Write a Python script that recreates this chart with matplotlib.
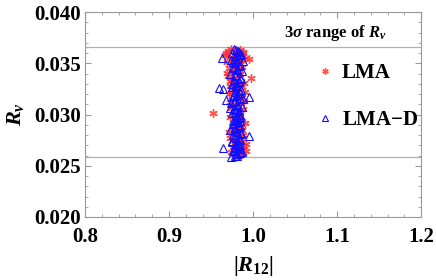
import matplotlib
matplotlib.use('Agg')
import matplotlib.pyplot as plt
from matplotlib.ticker import MultipleLocator

plt.rcParams['font.family'] = 'Liberation Serif'
plt.rcParams['font.weight'] = 'bold'
plt.rcParams['mathtext.fontset'] = 'custom'
plt.rcParams['mathtext.rm'] = 'Liberation Serif:bold'
plt.rcParams['mathtext.it'] = 'Liberation Serif:italic:bold'
plt.rcParams['mathtext.bf'] = 'Liberation Serif:bold'

# 3 sigma range of R_nu
r_low, r_high = 0.0259, 0.0366

# LMA points (|R12|, R_nu)
lma_x = [0.970, 0.974, 0.979, 0.984, 0.988, 0.966, 0.972, 0.981, 0.990, 0.995,
         0.969, 0.976, 0.985, 0.971, 0.980, 0.987, 0.997, 0.970, 0.975, 0.983,
         0.989, 0.973, 0.978, 0.986, 0.971, 0.982, 0.990, 0.976, 0.984, 0.952,
         0.974, 0.980, 0.988, 0.972, 0.985, 0.977, 0.983, 0.990, 0.975, 0.981,
         0.987, 0.973, 0.979, 0.986, 0.992, 0.976, 0.982, 0.989, 0.974, 0.980,
         0.985, 0.978, 0.983, 0.969, 0.987, 0.978, 0.981, 0.984, 0.977, 0.973,
         0.968, 0.986, 0.975, 0.982, 0.979, 0.991, 0.972, 0.988, 0.976, 0.983,
         0.980, 0.985, 0.977, 0.989, 0.974, 0.982, 0.978, 0.986, 0.971, 0.984,
         0.979, 0.987, 0.975, 0.983, 0.981, 0.988, 0.976, 0.980, 0.984, 0.978]
lma_y = [0.0362, 0.0364, 0.0361, 0.0363, 0.0360, 0.0358, 0.0356, 0.0357, 0.0355, 0.0354,
         0.0351, 0.0349, 0.0352, 0.0345, 0.0343, 0.0346, 0.0336, 0.0338, 0.0334, 0.0339,
         0.0331, 0.0328, 0.0325, 0.0327, 0.0320, 0.0318, 0.0322, 0.0314, 0.0311, 0.0301,
         0.0306, 0.0303, 0.0305, 0.0298, 0.0296, 0.0291, 0.0289, 0.0292, 0.0284, 0.0281,
         0.0285, 0.0277, 0.0274, 0.0276, 0.0271, 0.0268, 0.0266, 0.0269, 0.0263, 0.0261,
         0.0262, 0.0259, 0.0260, 0.0341, 0.0353, 0.0330, 0.0296, 0.0272, 0.0348, 0.0312,
         0.0360, 0.0317, 0.0342, 0.0287, 0.0309, 0.0264, 0.0333, 0.0280, 0.0355, 0.0324,
         0.0358, 0.0340, 0.0336, 0.0313, 0.0321, 0.0300, 0.0294, 0.0288, 0.0283, 0.0279,
         0.0270, 0.0265, 0.0308, 0.0329, 0.0347, 0.0361, 0.0352, 0.0326, 0.0299, 0.0275]

# LMA-D points (|R12|, R_nu)
lmad_x = [0.977, 0.980, 0.983, 0.975, 0.986, 0.979, 0.982, 0.963, 0.974, 0.988,
          0.978, 0.984, 0.976, 0.981, 0.987, 0.973, 0.979, 0.985, 0.960, 0.964,
          0.977, 0.983, 0.975, 0.980, 0.986, 0.968, 0.978, 0.995, 0.982, 0.976,
          0.984, 0.979, 0.974, 0.981, 0.987, 0.977, 0.983, 0.975, 0.980, 0.985,
          0.978, 0.982, 0.976, 0.984, 0.995, 0.979, 0.973, 0.981, 0.986, 0.977,
          0.983, 0.964, 0.975, 0.980, 0.985, 0.978, 0.982, 0.976, 0.984, 0.979,
          0.974, 0.981, 0.987, 0.977, 0.983, 0.975, 0.980, 0.986, 0.978, 0.982,
          0.976, 0.984, 0.979, 0.973, 0.981, 0.988, 0.977, 0.983, 0.975, 0.980,
          0.982, 0.985, 0.979, 0.976, 0.983, 0.981, 0.978, 0.986, 0.980, 0.984,
          0.977, 0.982, 0.979, 0.985, 0.981, 0.978, 0.983, 0.980, 0.976, 0.984,
          0.982, 0.979, 0.986, 0.981, 0.977, 0.983, 0.980, 0.985, 0.978, 0.982]
lmad_y = [0.0364, 0.0363, 0.0361, 0.0360, 0.0359, 0.0357, 0.0356, 0.0355, 0.0353, 0.0352,
          0.0350, 0.0348, 0.0346, 0.0344, 0.0342, 0.0340, 0.0338, 0.0336, 0.0326, 0.0325,
          0.0334, 0.0332, 0.0330, 0.0328, 0.0324, 0.0314, 0.0322, 0.0317, 0.0320, 0.0318,
          0.0316, 0.0313, 0.0311, 0.0309, 0.0307, 0.0305, 0.0303, 0.0301, 0.0299, 0.0297,
          0.0295, 0.0293, 0.0291, 0.0289, 0.0279, 0.0287, 0.0285, 0.0283, 0.0281, 0.0278,
          0.0276, 0.0267, 0.0274, 0.0272, 0.0270, 0.0268, 0.0266, 0.0264, 0.0262, 0.0260,
          0.0259, 0.0261, 0.0263, 0.0265, 0.0269, 0.0273, 0.0277, 0.0282, 0.0286, 0.0290,
          0.0294, 0.0298, 0.0302, 0.0306, 0.0310, 0.0315, 0.0319, 0.0323, 0.0327, 0.0331,
          0.0362, 0.0358, 0.0354, 0.0351, 0.0347, 0.0343, 0.0339, 0.0335, 0.0329, 0.0321,
          0.0312, 0.0308, 0.0304, 0.0300, 0.0296, 0.0292, 0.0288, 0.0284, 0.0280, 0.0275,
          0.0271, 0.0267, 0.0263, 0.0260, 0.0345, 0.0333, 0.0318, 0.0294, 0.0270, 0.0356]

fig = plt.figure(figsize=(4.36, 2.8), dpi=100)
ax = fig.add_axes([0.195, 0.225, 0.771, 0.732])

ax.axhline(r_high, color='#b0b0b0', lw=0.9, zorder=1)
ax.axhline(r_low, color='#b0b0b0', lw=0.9, zorder=1)

ax.plot(lma_x, lma_y, ls='none', marker=(6, 2, 0), ms=6, color='#ff3030', alpha=0.85,
        mew=1.0, label='LMA', zorder=2)
ax.plot(lmad_x, lmad_y, ls='none', marker='^', ms=6, mfc='none', mec='#1010ff',
        mew=0.8, label='LMA$-$D', zorder=3)

ax.set_xlim(0.8, 1.2)
ax.set_ylim(0.020, 0.040)
ax.xaxis.set_major_locator(MultipleLocator(0.1))
ax.xaxis.set_minor_locator(MultipleLocator(0.02))
ax.yaxis.set_major_locator(MultipleLocator(0.005))
ax.yaxis.set_minor_locator(MultipleLocator(0.001))
ax.set_xticklabels([f'{v:.1f}' for v in ax.get_xticks()])
ax.set_yticklabels([f'{v:.3f}' for v in ax.get_yticks()])

for s in ax.spines.values():
    s.set_color('#999999')
ax.tick_params(which='both', direction='in', color='#999999', top=True, right=True,
               labelsize=15)
ax.tick_params(which='major', length=4)
ax.tick_params(axis='y', which='major', pad=3)
ax.tick_params(axis='x', which='major', pad=7)
ax.tick_params(which='minor', length=2)

ax.set_xlabel(r'$|R_{12}|$', fontsize=16, labelpad=5)
ax.set_ylabel(r'$R_{\nu}$', fontsize=16, labelpad=6)

ax.text(0.745, 0.897, r'3$\sigma$ range of $R_{\nu}$', transform=ax.transAxes,
        ha='center', va='center', fontsize=12)
ax.legend(loc='upper left', bbox_to_anchor=(0.665, 0.79), frameon=False, fontsize=15,
          labelspacing=1.3, handletextpad=0.4, handlelength=0.8, borderaxespad=0,
          markerscale=0.75)

fig.savefig('out.png', dpi=100)
